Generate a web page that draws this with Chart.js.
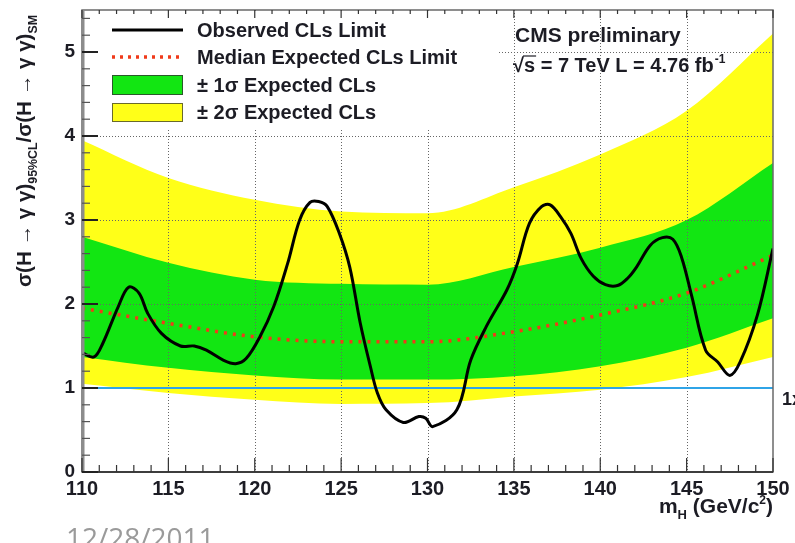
<!DOCTYPE html>
<html><head><meta charset="utf-8">
<script src="https://cdn.jsdelivr.net/npm/chart.js@4"></script>
<style>html,body{margin:0;padding:0;background:#fff;overflow:hidden}#wrap{width:795px;height:543px;position:relative}</style>
</head><body><div id="wrap"><canvas id="c" width="795" height="543"></canvas></div>
<script>
// ---- data ----
const bandMass  = [110, 115, 120, 125, 130, 135, 140, 145, 150];
const expMedian = [1.95, 1.77, 1.61, 1.55, 1.55, 1.67, 1.87, 2.13, 2.58];
const sig1Lo    = [1.37, 1.24, 1.15, 1.10, 1.10, 1.14, 1.26, 1.48, 1.83];
const sig1Hi    = [2.80, 2.49, 2.29, 2.24, 2.23, 2.44, 2.67, 3.00, 3.68];
const sig2Lo    = [1.05, 0.94, 0.86, 0.81, 0.82, 0.90, 0.98, 1.13, 1.37];
const sig2Hi    = [3.95, 3.50, 3.24, 3.10, 3.08, 3.39, 3.78, 4.30, 5.22];
const obsMass  = [110.0,110.7,111.2,112.1,112.7,113.3,113.8,114.6,115.7,116.5,117.2,118.2,118.9,119.5,120.3,121.1,121.9,122.6,123.2,123.7,124.2,124.9,125.5,126.1,126.7,127.1,127.6,128.6,129.5,129.9,130.3,131.7,132.5,133.4,134.6,135.2,135.9,136.6,137.1,137.7,138.3,138.9,139.6,140.3,141.0,141.6,142.1,142.9,143.6,144.2,144.7,145.3,146.1,146.8,147.5,148.1,149.1,150.0];
const obsLimit = [1.42,1.37,1.53,1.97,2.20,2.13,1.89,1.65,1.50,1.50,1.45,1.33,1.29,1.35,1.61,1.97,2.48,3.00,3.21,3.22,3.16,2.84,2.44,1.78,1.25,0.94,0.74,0.59,0.66,0.64,0.54,0.74,1.33,1.73,2.17,2.48,2.96,3.16,3.18,3.04,2.84,2.54,2.33,2.23,2.22,2.31,2.44,2.70,2.79,2.77,2.56,2.09,1.45,1.31,1.15,1.31,1.87,2.66];
const smMass = [110, 150];
const smRatio = [1, 1];
const xTicks = [110, 115, 120, 125, 130, 135, 140, 145, 150];
const yTicks = [0, 1, 2, 3, 4, 5];
const legendLabels = ['Observed CLs Limit', 'Median Expected CLs Limit', '\u00b1 1\u03c3 Expected CLs', '\u00b1 2\u03c3 Expected CLs'];

const pts = (xs, ys) => xs.map((x, i) => ({x: x, y: ys[i]}));
const FONT = '"Liberation Sans", Arial, sans-serif';
const TXT = '#1c1c24';
const GREEN = '#12e612';
const YELLOW = '#ffff18';

const decor = {
  id: 'decor',
  afterDatasetDraw(chart, args) {
    if (args.index !== 3) return;
    const {ctx, chartArea: a, scales: {x, y}} = chart;
    ctx.save();
    ctx.strokeStyle = '#666'; ctx.lineWidth = 1; ctx.setLineDash([1, 2]);
    xTicks.slice(1, -1).forEach(v => {
      const px = Math.round(x.getPixelForValue(v)) + 0.5;
      ctx.beginPath(); ctx.moveTo(px, a.top); ctx.lineTo(px, a.bottom); ctx.stroke();
    });
    yTicks.slice(1).forEach(v => {
      const py = Math.round(y.getPixelForValue(v)) + 0.5;
      ctx.beginPath(); ctx.moveTo(a.left, py); ctx.lineTo(a.right, py); ctx.stroke();
    });
    ctx.restore();
  },
  afterDraw(chart) {
    const {ctx, chartArea: a, scales: {x, y}} = chart;
    ctx.save();
    // legend box (white, covers grid)
    ctx.fillStyle = '#fff';
    ctx.fillRect(a.left + 2, a.top + 1, 497 - a.left, 128 - a.top);
    // frame
    ctx.strokeStyle = '#6a6a6a'; ctx.lineWidth = 1.5; ctx.setLineDash([]);
    ctx.strokeRect(a.left, a.top, a.right - a.left, a.bottom - a.top);
    ctx.strokeStyle = '#222'; ctx.lineWidth = 1.5;
    ctx.beginPath(); ctx.moveTo(a.left, a.bottom); ctx.lineTo(a.right, a.bottom); ctx.stroke();
    ctx.strokeStyle = '#8c8c8c'; ctx.lineWidth = 3;
    ctx.beginPath(); ctx.moveTo(a.left + 1, a.top); ctx.lineTo(a.left + 1, a.bottom); ctx.stroke();
    // ticks
    ctx.strokeStyle = '#333'; ctx.lineWidth = 1.2;
    for (let v = 110; v <= 150; v += 1) {
      const px = x.getPixelForValue(v);
      const major = v % 5 === 0;
      ctx.beginPath(); ctx.moveTo(px, a.bottom); ctx.lineTo(px, a.bottom - (major ? 14 : 7)); ctx.stroke();
      ctx.beginPath(); ctx.moveTo(px, a.top); ctx.lineTo(px, a.top + (major ? 8 : 4)); ctx.stroke();
    }
    for (let k = 0; k <= 27; k++) {
      const v = k * 0.2;
      const py = y.getPixelForValue(v);
      const major = k % 5 === 0;
      ctx.strokeStyle = major ? '#222' : '#555';
      ctx.lineWidth = major ? 2 : 1.2;
      ctx.beginPath(); ctx.moveTo(a.left, py); ctx.lineTo(a.left + (major ? 16 : 8), py); ctx.stroke();
    }
    // legend contents
    ctx.lineWidth = 3; ctx.strokeStyle = '#000';
    ctx.beginPath(); ctx.moveTo(112, 30); ctx.lineTo(183, 30); ctx.stroke();
    ctx.strokeStyle = '#f03a1a'; ctx.lineWidth = 3.5; ctx.setLineDash([3, 5]);
    ctx.beginPath(); ctx.moveTo(112, 57); ctx.lineTo(183, 57); ctx.stroke();
    ctx.setLineDash([]);
    ctx.fillStyle = GREEN; ctx.fillRect(112, 75, 71, 20);
    ctx.strokeStyle = '#2a5a2a'; ctx.lineWidth = 1; ctx.strokeRect(112.5, 75.5, 70, 19);
    ctx.fillStyle = YELLOW; ctx.fillRect(112, 103, 71, 19);
    ctx.strokeStyle = '#6a6a2a'; ctx.strokeRect(112.5, 103.5, 70, 18);
    ctx.fillStyle = TXT; ctx.font = 'bold 20px ' + FONT; ctx.textAlign = 'left'; ctx.textBaseline = 'alphabetic';
    ctx.fillText(legendLabels[0], 197, 37);
    ctx.fillText(legendLabels[1], 197, 64);
    ctx.fillText(legendLabels[2], 197, 92);
    ctx.fillText(legendLabels[3], 197, 119);
    // CMS text
    ctx.font = 'bold 21px ' + FONT;
    ctx.fillText('CMS preliminary', 515, 42);
    ctx.font = 'bold 20px ' + FONT;
    const sq = '\u221as = 7 TeV L = 4.76 fb';
    ctx.fillText(sq, 513, 72);
    const wsq = ctx.measureText('\u221a').width, ws = ctx.measureText('\u221as').width;
    ctx.strokeStyle = TXT; ctx.lineWidth = 1.2;
    ctx.beginPath(); ctx.moveTo(513 + wsq - 1, 56); ctx.lineTo(513 + ws + 1, 56); ctx.stroke();
    const wAll = ctx.measureText(sq).width;
    ctx.font = 'bold 12px ' + FONT;
    ctx.fillText('-1', 513 + wAll + 1, 63);
    // 1x label
    ctx.font = 'bold 18px ' + FONT;
    ctx.fillText('1x', 782, 405);
    // x title
    const xs = [['m', 21, 0], ['H', 13, 6], [' (GeV/c', 21, 0], ['2', 12, -9], [')', 21, 0]];
    let tw = 0;
    xs.forEach(s => { ctx.font = 'bold ' + s[1] + 'px ' + FONT; tw += ctx.measureText(s[0]).width; });
    let cx = a.right - tw;
    xs.forEach(s => { ctx.font = 'bold ' + s[1] + 'px ' + FONT; ctx.fillText(s[0], cx, 513 + s[2]); cx += ctx.measureText(s[0]).width; });
    // y title (rotated)
    const ys = [['\u03c3(H \u2192 \u03b3 \u03b3)', 20, 0], ['95%CL', 12, 6], ['/\u03c3(H \u2192 \u03b3 \u03b3)', 20, 0], ['SM', 12, 6]];
    let th = 0;
    ys.forEach(s => { ctx.font = 'bold ' + s[1] + 'px ' + FONT; th += ctx.measureText(s[0]).width; });
    ctx.save();
    ctx.translate(31, 287); ctx.rotate(-Math.PI / 2);
    ctx.scale(272 / th, 1);
    let ty = 0;
    ys.forEach(s => { ctx.font = 'bold ' + s[1] + 'px ' + FONT; ctx.fillText(s[0], ty, s[2]); ty += ctx.measureText(s[0]).width; });
    ctx.restore();
    // date footer
    ctx.fillStyle = '#9a9a9a'; ctx.font = '28px "Open Sans", sans-serif';
    ctx.fillText('12/28/2011', 66, 548);
    ctx.restore();
  }
};

new Chart(document.getElementById('c'), {
  type: 'line',
  data: {
    datasets: [
      {label: 'obs', data: pts(obsMass, obsLimit), borderColor: '#000', borderWidth: 3, tension: 0.35, fill: false},
      {label: 'exp', data: pts(bandMass, expMedian), borderColor: '#f03a1a', borderWidth: 3.5, borderDash: [3, 6], cubicInterpolationMode: 'monotone', fill: false},
      {label: 'sm', data: pts(smMass, smRatio), borderColor: '#2fa4e7', borderWidth: 2, fill: false},
      {label: 's1hi', data: pts(bandMass, sig1Hi), borderWidth: 0, borderColor: 'rgba(0,0,0,0)', backgroundColor: GREEN, cubicInterpolationMode: 'monotone', fill: 4},
      {label: 's1lo', data: pts(bandMass, sig1Lo), borderWidth: 0, borderColor: 'rgba(0,0,0,0)', cubicInterpolationMode: 'monotone', fill: false},
      {label: 's2hi', data: pts(bandMass, sig2Hi), borderWidth: 0, borderColor: 'rgba(0,0,0,0)', backgroundColor: YELLOW, cubicInterpolationMode: 'monotone', fill: 6},
      {label: 's2lo', data: pts(bandMass, sig2Lo), borderWidth: 0, borderColor: 'rgba(0,0,0,0)', cubicInterpolationMode: 'monotone', fill: false}
    ]
  },
  options: {
    responsive: false, animation: false, devicePixelRatio: 1,
    layout: {padding: {left: 0, right: 22, top: 10, bottom: 0}},
    elements: {point: {radius: 0}},
    plugins: {legend: {display: false}, tooltip: {enabled: false}},
    scales: {
      x: {
        type: 'linear', min: 110, max: 150,
        grid: {display: false, drawTicks: false}, border: {display: false},
        afterBuildTicks: s => { s.ticks = xTicks.map(v => ({value: v})); },
        afterFit: s => { s.height = 71; s.paddingLeft = 0; s.paddingRight = 0; },
        ticks: {font: {family: FONT, weight: 'bold', size: 20}, color: TXT, padding: 5, maxRotation: 0, autoSkip: false}
      },
      y: {
        type: 'linear', min: 0, max: 5.5,
        grid: {display: false, drawTicks: false}, border: {display: false},
        afterBuildTicks: s => { s.ticks = yTicks.map(v => ({value: v})); },
        afterFit: s => { s.width = 82; s.paddingTop = 0; s.paddingBottom = 0; },
        ticks: {font: {family: FONT, weight: 'bold', size: 19}, color: TXT, padding: 7}
      }
    }
  },
  plugins: [decor]
});
</script>
</body></html>
